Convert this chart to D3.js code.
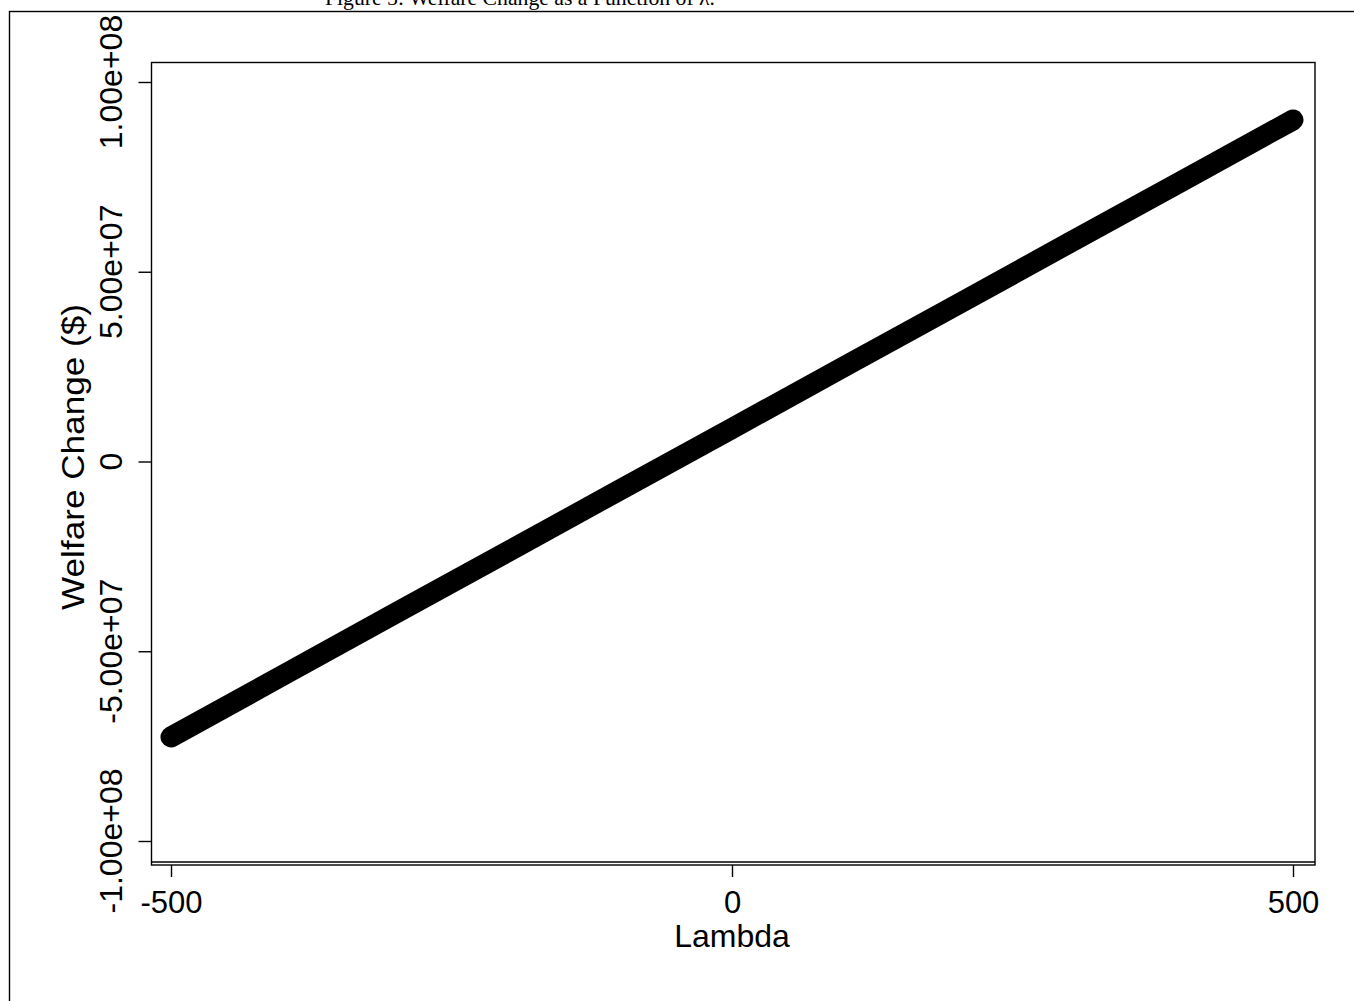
<!DOCTYPE html>
<html>
<head>
<meta charset="utf-8">
<script src="https://cdn.jsdelivr.net/npm/d3@7"></script>
<style>
  body { margin: 0; background: #fff; }
  svg { display: block; }
</style>
</head>
<body>
<div id="viz"></div>
<script>
// values (welfare change in $ at each lambda)
var lambdas = [-500, -400, -300, -200, -100, 0, 100, 200, 300, 400, 500];
var welfare = [-72.6e6, -56.3e6, -40.0e6, -23.8e6, -7.5e6, 8.7e6, 25.0e6, 41.2e6, 57.5e6, 73.7e6, 90.0e6];
var xTicks = [-500, 0, 500];
var yTicks = [-1e8, -5e7, 0, 5e7, 1e8];
var yTickLabels = ["-1.00e+08", "-5.00e+07", "0", "5.00e+07", "1.00e+08"];

var W = 1354, H = 1001;
var plot = { left: 151.5, top: 62.5, right: 1315, bottom: 865 };

var svg = d3.select("#viz")
    .append("svg")
    .attr("width", W)
    .attr("height", H);

// page frame + caption (cut at the top edge, as in the source)
svg.append("rect")
    .attr("x", 9.5).attr("y", 11.5)
    .attr("width", 1500).attr("height", 1200)
    .attr("fill", "none").attr("stroke", "#000").attr("stroke-width", 1.4);

svg.append("text")
    .attr("x", 520).attr("y", 5)
    .attr("text-anchor", "middle")
    .attr("font-family", "Liberation Serif, serif")
    .attr("font-size", 21)
    .attr("textLength", 390)
    .attr("lengthAdjust", "spacingAndGlyphs")
    .text("Figure 5: Welfare Change as a Function of \u03bb.");

var x = d3.scaleLinear().domain([-500, 500]).range([171, 1293]);
var y = d3.scaleLinear().domain([-1e8, 1e8]).range([841, 82]);

// plot region
svg.append("rect")
    .attr("x", plot.left).attr("y", plot.top)
    .attr("width", plot.right - plot.left).attr("height", plot.bottom - plot.top)
    .attr("fill", "none").attr("stroke", "#000").attr("stroke-width", 1.4);
svg.append("line")
    .attr("x1", plot.left).attr("x2", plot.right)
    .attr("y1", 862).attr("y2", 862)
    .attr("stroke", "#000").attr("stroke-width", 1.4);

// x axis
var xAxis = svg.append("g")
    .attr("transform", "translate(0," + plot.bottom + ")")
    .call(d3.axisBottom(x).tickValues(xTicks).tickSize(12).tickSizeOuter(0).tickPadding(14)
        .tickFormat(function (d) { return String(d); }));
xAxis.select(".domain").remove();
xAxis.selectAll("line").attr("stroke-width", 1.4);
xAxis.selectAll("text")
    .attr("font-family", "Liberation Sans, Arial, sans-serif")
    .attr("font-size", 31)
    .attr("fill", "#000");

svg.append("text")
    .attr("x", 732).attr("y", 947)
    .attr("text-anchor", "middle")
    .attr("font-family", "Liberation Sans, Arial, sans-serif")
    .attr("font-size", 32)
    .text("Lambda");

// y axis (labels rotated, Stata style)
var yAxis = svg.append("g")
    .attr("transform", "translate(" + plot.left + ",0)")
    .call(d3.axisLeft(y).tickValues(yTicks).tickSize(13).tickSizeOuter(0).tickFormat(""));
yAxis.select(".domain").remove();
yAxis.selectAll("line").attr("stroke-width", 1.4);

svg.selectAll(".ylab")
    .data(yTicks)
    .enter()
    .append("text")
    .attr("class", "ylab")
    .attr("transform", function (d) { return "translate(122," + y(d) + ") rotate(-90)"; })
    .attr("text-anchor", "middle")
    .attr("font-family", "Liberation Sans, Arial, sans-serif")
    .attr("font-size", 32)
    .text(function (d, i) { return yTickLabels[i]; });

svg.append("text")
    .attr("transform", "translate(84,457) rotate(-90)")
    .attr("text-anchor", "middle")
    .attr("font-family", "Liberation Sans, Arial, sans-serif")
    .attr("font-size", 32)
    .attr("textLength", 306)
    .attr("lengthAdjust", "spacingAndGlyphs")
    .text("Welfare Change ($)");

// the series: dense markers drawn as a thick round line
var pts = lambdas.map(function (d, i) { return [d, welfare[i]]; });
svg.append("path")
    .datum(pts)
    .attr("d", d3.line().x(function (d) { return x(d[0]); }).y(function (d) { return y(d[1]); }))
    .attr("fill", "none")
    .attr("stroke", "#000")
    .attr("stroke-width", 21)
    .attr("stroke-linecap", "round")
    .attr("stroke-linejoin", "round");
</script>
</body>
</html>
